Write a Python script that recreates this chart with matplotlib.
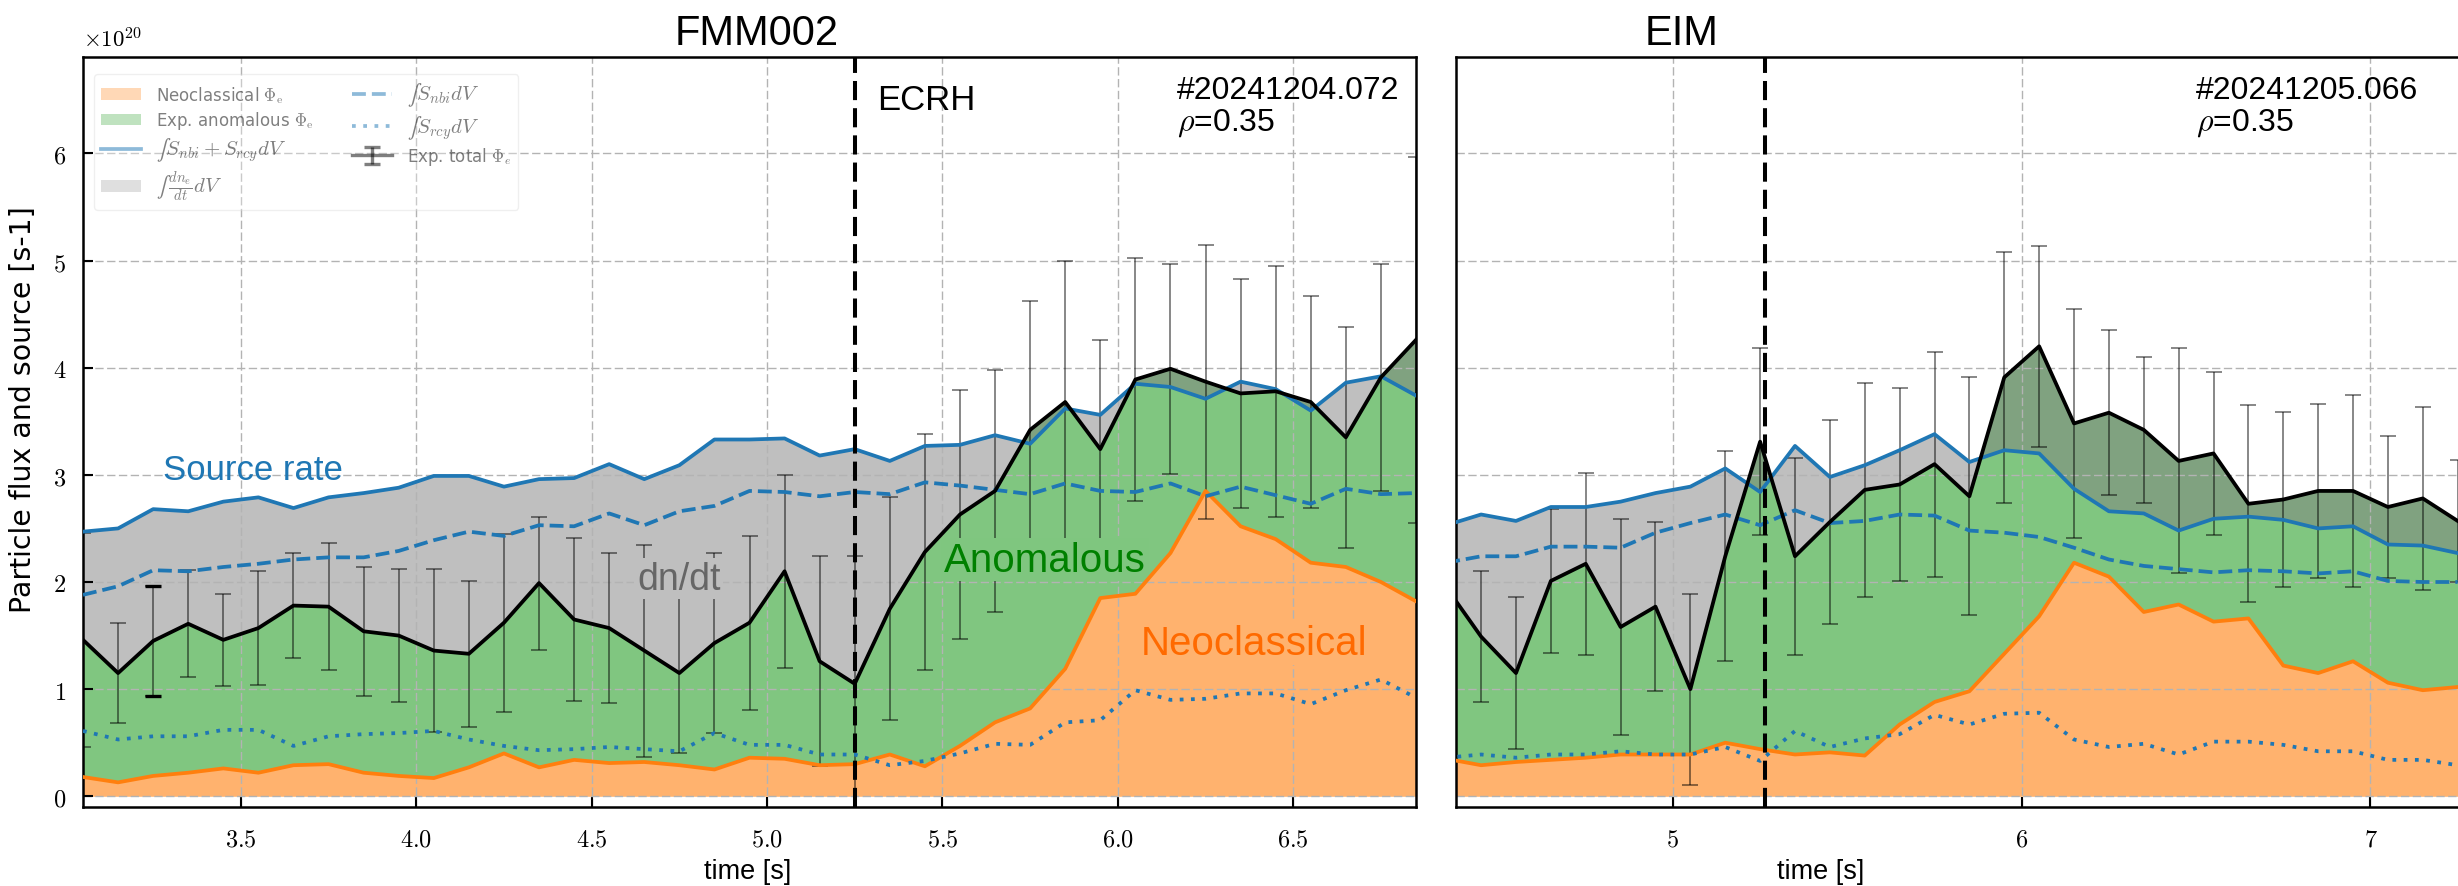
import numpy as np
import matplotlib
matplotlib.use('Agg')
import matplotlib.pyplot as plt
from matplotlib.patches import Patch
from matplotlib.lines import Line2D
from matplotlib.ticker import FixedLocator, FixedFormatter

plt.rcParams['mathtext.fontset'] = 'cm'
plt.rcParams['font.family'] = ['DejaVu Sans']

# ---------------- data (units of 1e20 s^-1) ----------------
t_fmm = [3.05, 3.15, 3.25, 3.35, 3.45, 3.55, 3.65, 3.75, 3.85, 3.95,
         4.05, 4.15, 4.25, 4.35, 4.45, 4.55, 4.65, 4.75, 4.85, 4.95,
         5.05, 5.15, 5.25, 5.35, 5.45, 5.55, 5.65, 5.75, 5.85, 5.95,
         6.05, 6.15, 6.25, 6.35, 6.45, 6.55, 6.65, 6.75, 6.85]
src_fmm = [2.47, 2.50, 2.68, 2.66, 2.75, 2.79, 2.69, 2.79, 2.83, 2.88,
           2.99, 2.99, 2.89, 2.96, 2.97, 3.10, 2.96, 3.09, 3.33, 3.33,
           3.34, 3.18, 3.24, 3.13, 3.27, 3.28, 3.37, 3.29, 3.62, 3.56,
           3.85, 3.82, 3.71, 3.87, 3.80, 3.60, 3.86, 3.92, 3.74]
tot_fmm = [1.46, 1.15, 1.45, 1.61, 1.46, 1.57, 1.78, 1.77, 1.54, 1.50,
           1.36, 1.33, 1.62, 1.99, 1.65, 1.57, 1.36, 1.15, 1.43, 1.62,
           2.10, 1.26, 1.05, 1.75, 2.28, 2.63, 2.85, 3.42, 3.68, 3.24,
           3.89, 3.99, 3.87, 3.76, 3.78, 3.68, 3.35, 3.91, 4.26]
err_fmm = [1.00, 0.47, 0.51, 0.50, 0.43, 0.53, 0.49, 0.59, 0.60, 0.62,
           0.76, 0.68, 0.83, 0.62, 0.76, 0.70, 0.99, 0.75, 0.84, 0.81,
           0.90, 0.98, 1.19, 1.04, 1.10, 1.16, 1.13, 1.20, 1.32, 1.02,
           1.13, 0.98, 1.28, 1.07, 1.17, 0.99, 1.03, 1.06, 1.71]
neo_fmm = [0.18, 0.13, 0.19, 0.22, 0.26, 0.22, 0.29, 0.30, 0.22, 0.19,
           0.17, 0.27, 0.40, 0.27, 0.34, 0.31, 0.32, 0.29, 0.25, 0.36,
           0.35, 0.29, 0.30, 0.39, 0.28, 0.47, 0.69, 0.82, 1.19, 1.85,
           1.89, 2.27, 2.85, 2.52, 2.40, 2.18, 2.14, 2.00, 1.82]
nbi_fmm = [1.88, 1.96, 2.11, 2.10, 2.14, 2.17, 2.21, 2.23, 2.23, 2.29,
           2.39, 2.47, 2.43, 2.53, 2.52, 2.64, 2.53, 2.66, 2.71, 2.85,
           2.84, 2.80, 2.84, 2.82, 2.93, 2.90, 2.86, 2.82, 2.92, 2.85,
           2.84, 2.92, 2.80, 2.89, 2.81, 2.73, 2.87, 2.82, 2.83]
rcy_fmm = [0.61, 0.53, 0.56, 0.56, 0.62, 0.62, 0.47, 0.56, 0.58, 0.59,
           0.61, 0.53, 0.47, 0.43, 0.44, 0.46, 0.44, 0.42, 0.59, 0.48,
           0.48, 0.39, 0.39, 0.29, 0.33, 0.40, 0.49, 0.48, 0.69, 0.71,
           0.99, 0.90, 0.91, 0.96, 0.96, 0.86, 0.99, 1.09, 0.92]

t_eim = [4.35, 4.45, 4.55, 4.65, 4.75, 4.85, 4.95, 5.05, 5.15, 5.25,
         5.35, 5.45, 5.55, 5.65, 5.75, 5.85, 5.95, 6.05, 6.15, 6.25,
         6.35, 6.45, 6.55, 6.65, 6.75, 6.85, 6.95, 7.05, 7.15, 7.25]
tot_eim = [1.95, 1.49, 1.15, 2.01, 2.17, 1.58, 1.77, 1.00, 2.24, 3.31,
           2.24, 2.56, 2.86, 2.91, 3.10, 2.80, 3.91, 4.20, 3.48, 3.58,
           3.42, 3.13, 3.20, 2.73, 2.77, 2.85, 2.85, 2.70, 2.78, 2.57]
src_eim = [2.53, 2.63, 2.57, 2.70, 2.70, 2.75, 2.83, 2.89, 3.06, 2.84,
           3.27, 2.98, 3.09, 3.23, 3.38, 3.12, 3.23, 3.20, 2.87, 2.66,
           2.64, 2.48, 2.59, 2.61, 2.58, 2.50, 2.52, 2.35, 2.34, 2.27]
nbi_eim = [2.18, 2.24, 2.24, 2.33, 2.33, 2.32, 2.46, 2.55, 2.63, 2.53,
           2.67, 2.55, 2.57, 2.63, 2.62, 2.48, 2.46, 2.42, 2.32, 2.21,
           2.15, 2.12, 2.09, 2.11, 2.10, 2.08, 2.10, 2.01, 2.00, 2.00]
rcy_eim = [0.36, 0.39, 0.36, 0.39, 0.39, 0.42, 0.39, 0.39, 0.46, 0.33,
           0.61, 0.46, 0.54, 0.58, 0.76, 0.67, 0.77, 0.78, 0.53, 0.46,
           0.49, 0.39, 0.51, 0.51, 0.48, 0.42, 0.42, 0.34, 0.34, 0.29]
neo_eim = [0.35, 0.29, 0.32, 0.34, 0.36, 0.39, 0.39, 0.39, 0.50, 0.44,
           0.39, 0.41, 0.38, 0.67, 0.88, 0.98, 1.33, 1.68, 2.18, 2.05,
           1.72, 1.79, 1.63, 1.66, 1.22, 1.15, 1.26, 1.06, 0.99, 1.02]
err_eim = [0.60, 0.61, 0.71, 0.67, 0.85, 1.01, 0.79, 0.89, 0.98, 0.87,
           0.92, 0.95, 1.00, 0.90, 1.05, 1.11, 1.17, 0.94, 1.07, 0.77,
           0.68, 1.05, 0.76, 0.92, 0.82, 0.81, 0.90, 0.66, 0.85, 0.57]

xticks_fmm = [3.5, 4.0, 4.5, 5.0, 5.5, 6.0, 6.5]
xticklabels_fmm = ['3.5', '4.0', '4.5', '5.0', '5.5', '6.0', '6.5']
xticks_eim = [5, 6, 7]
xticklabels_eim = ['5', '6', '7']
yticks = [0, 1, 2, 3, 4, 5, 6]
t_ecrh_fmm = 5.25
t_ecrh_eim = 5.265

# ---------------- styling ----------------
BLUE, ORANGE, GREEN = '#1f77b4', '#ff7f0e', '#2ca02c'
W, H, DPI = 2458, 887, 100
fig = plt.figure(figsize=(W / DPI, H / DPI), dpi=DPI)


def px_axes(x0, x1, y0, y1):
    return [x0 / W, 1 - y1 / H, (x1 - x0) / W, (y1 - y0) / H]


ax1 = fig.add_axes(px_axes(83, 1416, 58, 808))
ax2 = fig.add_axes(px_axes(1456, 2789, 58, 808))

LW = 2.7
DOTS = (1, 2.0)


def panel(ax, t, tot, src, nbi, rcy, neo, err, t_ecrh, xlim, xt, xtl):
    t = np.asarray(t)
    ax.fill_between(t, 0, neo, color=ORANGE, alpha=0.6, lw=0, zorder=0.3)
    ax.fill_between(t, neo, tot, color=GREEN, alpha=0.6, lw=0, zorder=0.3)
    ax.fill_between(t, tot, src, color='gray', alpha=0.5, lw=0, zorder=0.35)
    ax.errorbar(t, tot, yerr=err, fmt='none', ecolor=(0, 0, 0, 0.55),
                elinewidth=1.2, capsize=5.5, capthick=1.2, zorder=2)
    ax.plot(t, neo, color=ORANGE, lw=LW, zorder=3)
    ax.plot(t, rcy, color=BLUE, lw=LW, dashes=DOTS, zorder=3)
    ax.plot(t, nbi, color=BLUE, lw=LW, ls='--', zorder=3)
    ax.plot(t, src, color=BLUE, lw=LW, zorder=3.1)
    ax.plot(t, tot, color='k', lw=LW, zorder=3.2)
    ax.axvline(t_ecrh, color='k', lw=2.9, dashes=(4.75, 2.0), zorder=4)
    ax.set_xlim(*xlim)
    ax.set_ylim(-0.1, 6.9)
    ax.xaxis.set_major_locator(FixedLocator(xt))
    ax.xaxis.set_major_formatter(FixedFormatter(['$' + s + '$' for s in xtl]))
    ax.yaxis.set_major_locator(FixedLocator(yticks))
    ax.yaxis.set_major_formatter(FixedFormatter(['$%d$' % v for v in yticks]))
    ax.set_axisbelow(True)
    ax.grid(True, color='0.7', lw=1.0, dashes=(6, 2.5))
    ax.tick_params(direction='in', length=7.2, width=1.5, labelsize=17.5, pad=12)
    ax.tick_params(axis='x', pad=14)
    for s in ax.spines.values():
        s.set_linewidth(1.8)


panel(ax1, t_fmm, tot_fmm, src_fmm, nbi_fmm, rcy_fmm, neo_fmm, err_fmm,
      t_ecrh_fmm, (3.05, 6.85), xticks_fmm, xticklabels_fmm)
panel(ax2, t_eim, tot_eim, src_eim, nbi_eim, rcy_eim, neo_eim, err_eim,
      t_ecrh_eim, (4.378, 8.2), xticks_eim, xticklabels_eim)
ax2.tick_params(axis='y', left=False, labelleft=False)

# emphasised caps at one point (as in the original)
ax1.errorbar([t_fmm[2]], [tot_fmm[2]], yerr=[err_fmm[2]], fmt='none', ecolor='k',
             elinewidth=0, capsize=5.5, capthick=2.4, zorder=2.1)

# ---------------- annotations ----------------
SANS = ['Liberation Sans', 'DejaVu Sans']
ax1.text(3.277, 3.05, 'Source rate', color=BLUE, fontsize=25, family=SANS,
         ha='left', va='center', zorder=2.5)
ax1.text(4.748, 2.03, 'dn/dt', color='#666666', fontsize=27, family=SANS,
         ha='center', va='center', zorder=2.5,
         bbox=dict(facecolor='#bfbfbf', edgecolor='none', pad=2))
ax1.text(5.792, 2.21, 'Anomalous', color='green', fontsize=29, family=SANS,
         ha='center', va='center', zorder=2.5,
         bbox=dict(facecolor='#7fc67f', edgecolor='none', pad=2))
ax1.text(6.387, 1.43, 'Neoclassical', color='#ff6a00', fontsize=29, family=SANS,
         ha='center', va='center', zorder=2.5,
         bbox=dict(facecolor='#ffb26e', edgecolor='none', pad=2))

ax1.text(0.596, 0.944, 'ECRH', transform=ax1.transAxes, fontsize=25, family=SANS,
         ha='left', va='center')
ax1.text(0.8205, 0.956, '#20241204.072', transform=ax1.transAxes, fontsize=23,
         family=SANS, ha='left', va='center')
ax1.text(0.8205, 0.913, r'$\rho$=0.35', transform=ax1.transAxes, fontsize=23,
         family=SANS, ha='left', va='center')
ax2.text(0.555, 0.956, '#20241205.066', transform=ax2.transAxes, fontsize=23,
         family=SANS, ha='left', va='center')
ax2.text(0.555, 0.913, r'$\rho$=0.35', transform=ax2.transAxes, fontsize=23,
         family=SANS, ha='left', va='center')

fig.text(757 / W, 1 - 34 / H, 'FMM002', fontsize=30, family=SANS, ha='center', va='center')
fig.text(1682 / W, 1 - 34 / H, 'EIM', fontsize=30, family=SANS, ha='center', va='center')
fig.text(748 / W, 1 - 872 / H, 'time [s]', fontsize=19.5, family=SANS, ha='center', va='center')
fig.text(1821 / W, 1 - 872 / H, 'time [s]', fontsize=19.5, family=SANS, ha='center', va='center')
fig.text(23 / W, 1 - 410 / H, 'Particle flux and source [s-1]', fontsize=20.4,
         rotation=90, ha='center', va='center')
fig.text(83 / W, 1 - 52 / H, r'$\times10^{20}$', fontsize=16.5, ha='left', va='bottom')

# ---------------- legend ----------------
eb_proxy = ax1.errorbar([-10], [0], yerr=[1], color=(0, 0, 0, 0.5), ecolor=(0, 0, 0, 0.5),
                        lw=2.4, elinewidth=2.4, capsize=6, capthick=2.4)
handles = [
    Patch(facecolor=ORANGE, alpha=0.3, lw=0),
    Patch(facecolor=GREEN, alpha=0.3, lw=0),
    Line2D([], [], color=BLUE, alpha=0.5, lw=LW),
    Patch(facecolor='gray', alpha=0.25, lw=0),
    Line2D([], [], color=BLUE, alpha=0.5, lw=LW, ls='--'),
    Line2D([], [], color=BLUE, alpha=0.5, lw=LW, dashes=DOTS),
    eb_proxy,
]
labels = [r'Neoclassical $\Phi_\mathrm{e}$',
          r'Exp. anomalous $\Phi_\mathrm{e}$',
          r'$∫S_{nbi}+S_{rcy}dV$',
          r'$∫\,\frac{dn_e}{dt}dV$',
          r'$∫S_{nbi}dV$',
          r'$∫S_{rcy}dV$',
          r'Exp. total $\Phi_e$']
leg = ax1.legend(handles, labels, ncol=2, loc='upper left', bbox_to_anchor=(0.0086, 0.977),
                 borderaxespad=0, fontsize=12, handlelength=2.4, handletextpad=0.9,
                 columnspacing=2.3, framealpha=0.3, labelspacing=0.28)
for i, txt in enumerate(leg.get_texts()):
    txt.set_color((0, 0, 0, 0.5))
    if i in (2, 3, 4, 5):
        txt.set_fontsize(15)
leg.set_zorder(5)

fig.savefig('out.png', dpi=DPI)
